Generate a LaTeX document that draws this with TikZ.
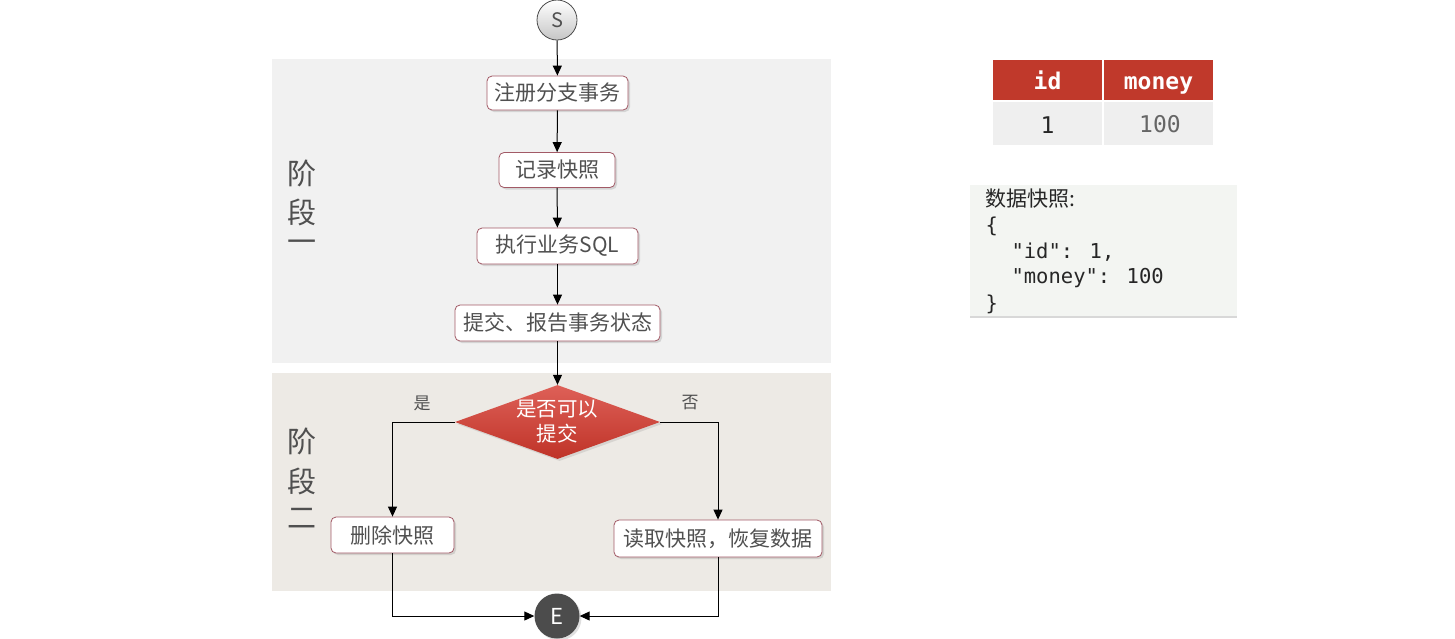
\documentclass[tikz,border=0pt]{standalone}
\usepackage{fontspec}
\setmainfont{Noto Sans CJK SC}
\newfontfamily\monof{DejaVu Sans Mono}
\newfontfamily\cjkf{Noto Sans CJK SC}
\usetikzlibrary{shapes.geometric,shadows,arrows.meta}
\definecolor{stageA}{HTML}{F1F1F1}
\definecolor{stageB}{HTML}{EDEAE5}
\definecolor{txtgray}{HTML}{505050}
\definecolor{boxborder}{HTML}{A25A66}
\definecolor{hdrred}{HTML}{C0392B}
\definecolor{diared}{HTML}{D8443A}
\definecolor{diadark}{HTML}{BF3328}
\definecolor{rowgray}{HTML}{EFEFEF}
\definecolor{snapbg}{HTML}{F3F5F2}
\definecolor{enddark}{HTML}{4C4C4C}
\tikzset{
  flowbox/.style={draw=boxborder, line width=0.8pt, rounded corners=5pt, fill=white,
    drop shadow={opacity=0.25, shadow xshift=2pt, shadow yshift=-2pt},
    font=\cjkf\fontsize{21}{24}\selectfont, text=txtgray, inner sep=0pt},
  conn/.style={draw=black, line width=1pt, -{Triangle[length=10pt,width=9pt]}},
  stagelbl/.style={font=\cjkf\fontsize{29}{31}\selectfont, text=txtgray, align=center},
  yesno/.style={font=\cjkf\fontsize{17}{19}\selectfont, text=txtgray},
  hdrtxt/.style={font=\monof\bfseries\fontsize{23}{26}\selectfont, text=white, anchor=base},
  celltxt/.style={font=\monof\fontsize{23}{26}\selectfont, anchor=base},
  jsontxt/.style={anchor=west, font=\monof\fontsize{20.5}{26}\selectfont, text=black!85},
}
\begin{document}
\begin{tikzpicture}[x=1pt,y=-1pt]
\useasboundingbox[fill=white] (0,0) rectangle (1455,638);
% stage backgrounds
\fill[stageA] (272,59) rectangle (831,363);
\fill[stageB] (272,373) rectangle (831,591);
\node[stagelbl] (st1a) at (302,173) {阶};
\node[stagelbl] (st1b) at (302,212) {段};
\node[stagelbl] (st1c) at (302,246) {一};
\node[stagelbl] (st2a) at (302,441) {阶};
\node[stagelbl] (st2b) at (302,481) {段};
\node[stagelbl] (st2c) at (302,518) {二};
% start / end
\node[circle, minimum size=40pt, inner sep=0pt, draw=enddark, line width=0.8pt,
  top color=white, bottom color=gray!45, font=\fontsize{20}{22}\selectfont, text=txtgray] (S) at (557,20) {S};
\node[circle, minimum size=45pt, inner sep=0pt, fill=enddark,
  drop shadow={opacity=0.25, shadow xshift=2pt, shadow yshift=-2pt},
  font=\fontsize{22}{24}\selectfont, text=white] (E) at (557,616) {E};
% boxes
\node[flowbox, minimum width=141pt, minimum height=34pt] (b1) at (557.5,93) {注册分支事务};
\node[flowbox, minimum width=116pt, minimum height=35pt] (b2) at (557,170) {记录快照};
\node[flowbox, minimum width=161pt, minimum height=36pt] (b3) at (557.5,246) {执行业务SQL};
\node[flowbox, minimum width=205pt, minimum height=36pt] (b4) at (557.5,323) {提交、报告事务状态};
\node[diamond, minimum width=205pt, minimum height=74pt, inner sep=0pt,
  top color=diared!85!white, bottom color=diadark,
  drop shadow={opacity=0.2, shadow xshift=2pt, shadow yshift=-2pt}] (dia) at (557.5,422) {};
\node[font=\cjkf\fontsize{20.5}{25}\selectfont, text=white, align=center] (diat) at (557,422) {是否可以\\提交};
\node[flowbox, minimum width=123pt, minimum height=36pt] (del) at (392.5,535) {删除快照};
\node[flowbox, minimum width=208pt, minimum height=37pt] (rd) at (718,538.5) {读取快照，恢复数据};
\node[yesno] (yes) at (422,403) {是};
\node[yesno] (no) at (690,403) {否};
% connectors
\draw[conn] (S) -- (b1);
\draw[conn] (b1) -- (b2);
\draw[conn] (b2) -- (b3);
\draw[conn] (b3) -- (b4);
\draw[conn] (b4) -- (dia);
\draw[conn] (dia.west) -| (del.north);
\draw[conn] (dia.east) -| (rd.north);
\draw[conn] (del.south) |- (E.west);
\draw[conn] (rd.south) |- (E.east);
% table
\fill[hdrred] (993,60) rectangle (1102,100);
\fill[hdrred] (1104,60) rectangle (1213,100);
\fill[rowgray] (993,102) rectangle (1102,145);
\fill[rowgray] (1104,102) rectangle (1213,145);
\node[hdrtxt] (hid) at (1047.5,89) {id};
\node[hdrtxt] (hmoney) at (1158.5,89) {money};
\node[celltxt, text=black!85] (vid) at (1047.5,133) {1};
\node[celltxt, text=black!60] (vmoney) at (1160,132) {100};
% snapshot
\fill[snapbg, drop shadow={opacity=0.3, shadow xshift=0pt, shadow yshift=-2pt}] (970,185) rectangle (1237,316);
\node[anchor=west, font=\cjkf\fontsize{21}{24}\selectfont, text=black!85] (sn0) at (982,199) {数据快照:};
\node[jsontxt] (sn1) at (982,226) {\{};
\node[jsontxt] (sn2) at (1008,252) {"id": 1,};
\node[jsontxt] (sn3) at (1008,278) {"money": 100};
\node[jsontxt] (sn4) at (982,304) {\}};
\end{tikzpicture}
\end{document}
